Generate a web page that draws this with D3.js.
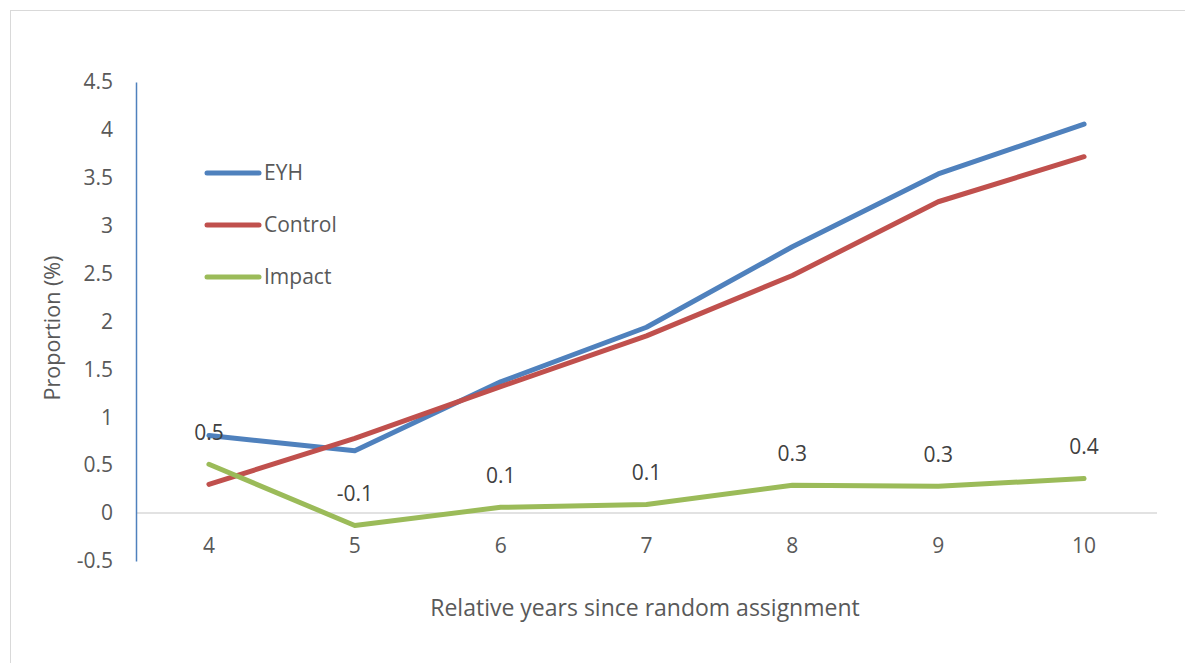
<!DOCTYPE html>
<html>
<head>
<meta charset="utf-8">
<script src="https://cdn.jsdelivr.net/npm/d3@7"></script>
<style>
  html, body { margin: 0; padding: 0; background: #fff; overflow: hidden; }
  svg text { font-family: "Open Sans", sans-serif; fill: #595959; }
</style>
</head>
<body>
<svg id="chart" width="1185" height="663"></svg>
<script>
// Years since random assignment
const years = ["4", "5", "6", "7", "8", "9", "10"];
// Proportion (%) for each group
const eyh     = [0.81, 0.65, 1.37, 1.94, 2.78, 3.54, 4.06];
const control = [0.30, 0.78, 1.32, 1.85, 2.48, 3.25, 3.72];
const impact  = [0.51, -0.13, 0.06, 0.09, 0.29, 0.28, 0.36];
const yTicks  = [-0.5, 0, 0.5, 1, 1.5, 2, 2.5, 3, 3.5, 4, 4.5];

const series = [
  { name: "EYH",     values: eyh,     color: "#4F81BD" },
  { name: "Control", values: control, color: "#C0504D" },
  { name: "Impact",  values: impact,  color: "#9BBB59" }
];

// plain hyphen for negatives
const hyphen = s => s.replace("\u2212", "-");
const tickFmt = d => hyphen(d3.format("")(d));
const labelFmt = d => hyphen(d3.format(".1f")(d));

const svg = d3.select("#chart");

// chart border (runs off the right and bottom edges)
svg.append("rect")
  .attr("x", 10.5).attr("y", 10.5)
  .attr("width", 1200).attr("height", 700)
  .attr("fill", "none").attr("stroke", "#d9d9d9").attr("stroke-width", 1);

const x = d3.scaleBand().domain(years).range([136, 1157]);
const y = d3.scaleLinear().domain([-0.5, 4.5]).range([561, 82]);

// horizontal zero line
svg.append("line")
  .attr("x1", 136).attr("x2", 1157)
  .attr("y1", y(0)).attr("y2", y(0))
  .attr("stroke", "#d9d9d9").attr("stroke-width", 1.5);

// y axis
const yAxis = svg.append("g")
  .attr("transform", "translate(136,0)")
  .call(d3.axisLeft(y).tickValues(yTicks).tickSize(0).tickPadding(23)
    .tickFormat(tickFmt));
yAxis.select(".domain").attr("stroke", "#4F81BD").attr("stroke-width", 1.5);
yAxis.selectAll("text").style("font-size", "21px").style("fill", "#595959")
  .style("font-family", "'Open Sans', sans-serif");

// x axis labels
const xAxis = svg.append("g")
  .attr("transform", "translate(0,546)")
  .call(d3.axisBottom(x).tickSize(0).tickPadding(0));
xAxis.select(".domain").remove();
xAxis.selectAll("text").style("font-size", "21px").style("fill", "#595959")
  .style("font-family", "'Open Sans', sans-serif")
  .attr("dy", "0.35em");

const line = d3.line()
  .x((d, i) => x(years[i]) + x.bandwidth() / 2)
  .y(d => y(d));

series.forEach(s => {
  svg.append("path")
    .datum(s.values)
    .attr("fill", "none")
    .attr("stroke", s.color)
    .attr("stroke-width", 5)
    .attr("stroke-linecap", "round")
    .attr("stroke-linejoin", "round")
    .attr("d", line);
});

// value labels on the impact series
svg.append("g").selectAll("text")
  .data(impact)
  .join("text")
  .attr("x", (d, i) => x(years[i]) + x.bandwidth() / 2)
  .attr("y", d => y(d) - 32)
  .attr("dy", "0.35em")
  .attr("text-anchor", "middle")
  .style("font-size", "21px")
  .style("fill", "#404040")
  .text(labelFmt);

// legend
const legend = svg.append("g");
series.forEach((s, i) => {
  const ly = 173 + i * 52;
  legend.append("line")
    .attr("x1", 207).attr("x2", 259)
    .attr("y1", ly).attr("y2", ly)
    .attr("stroke", s.color).attr("stroke-width", 5)
    .attr("stroke-linecap", "round");
  legend.append("text")
    .attr("x", 264).attr("y", ly).attr("dy", "0.35em")
    .style("font-size", "21px")
    .text(s.name);
});

// axis titles
svg.append("text")
  .attr("transform", "translate(52,328) rotate(-90)")
  .attr("text-anchor", "middle").attr("dy", "0.35em")
  .style("font-size", "21.5px")
  .text("Proportion (%)");

svg.append("text")
  .attr("x", 645).attr("y", 608)
  .attr("text-anchor", "middle").attr("dy", "0.35em")
  .style("font-size", "23px")
  .text("Relative years since random assignment");
</script>
</body>
</html>
